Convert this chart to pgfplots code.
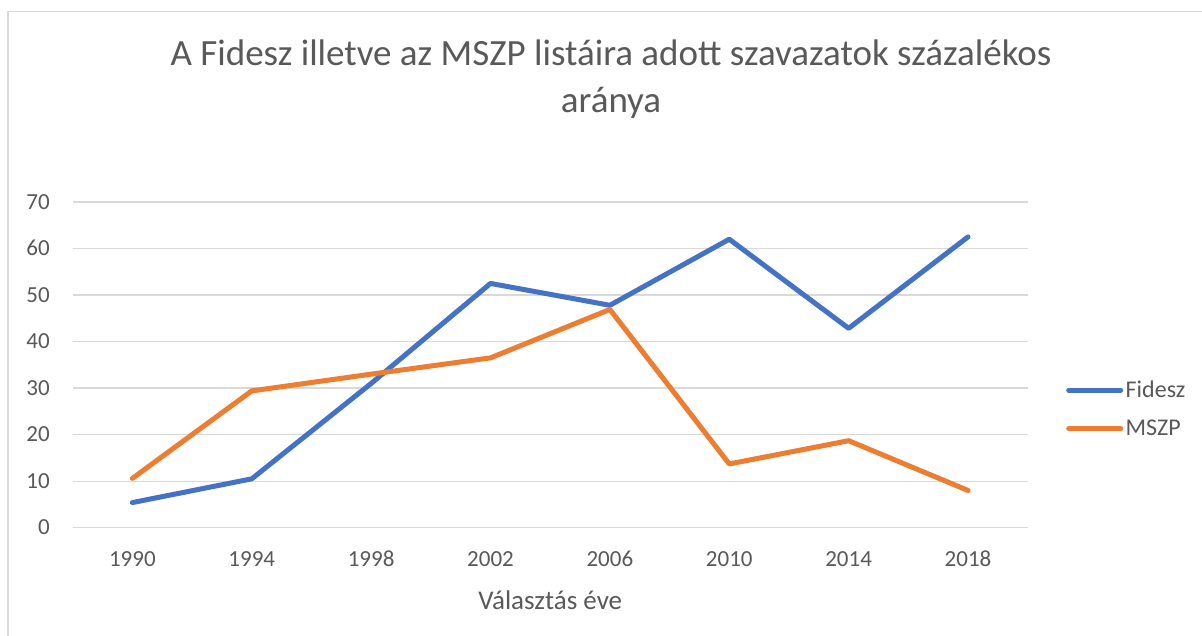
\documentclass[border=0pt]{standalone}
\usepackage{fontspec}
\setmainfont{Carlito}
\usepackage{pgfplots}
\pgfplotsset{compat=1.18}
\definecolor{txt}{HTML}{595959}
\definecolor{gridc}{HTML}{D9D9D9}
\definecolor{cblue}{HTML}{4472C4}
\definecolor{corange}{HTML}{ED7D31}
\begin{document}
\begin{tikzpicture}[x=1pt,y=1pt]
\useasboundingbox (0,0) rectangle (1202,636);
\fill[white] (0,0) rectangle (1202,636);
\draw[gridc, line width=1.6pt] (8,-20) -- (8,624.3) -- (1230,624.3);
\node[anchor=base, font=\fontsize{37}{44}\selectfont, text=txt, inner sep=0pt] at (611,570) {A Fidesz illetve az MSZP listáira adott szavazatok százalékos};
\node[anchor=base, font=\fontsize{37}{44}\selectfont, text=txt, inner sep=0pt] at (611,523.3) {aránya};
\begin{axis}[
  at={(72.7pt,108.3pt)}, anchor=south west,
  width=955pt, height=325.7pt, scale only axis,
  xmin=-0.5, xmax=7.5, ymin=0, ymax=70,
  xtick={0,1,2,3,4,5,6,7},
  xticklabels={1990,1994,1998,2002,2006,2010,2014,2018},
  ytick={0,10,20,30,40,50,60,70},
  ymajorgrids, xmajorgrids=false, grid style={gridc, line width=1.3pt},
  axis line style={draw=none},
  major tick length=0pt,
  tick label style={font=\fontsize{23}{27}\selectfont, text=txt},
  /pgf/number format/assume math mode=true,
  yticklabel style={inner sep=0pt, anchor=base east, xshift=-22.7pt, yshift=-7.2pt},
  xticklabel style={inner sep=0pt, anchor=base, yshift=-39pt},
  xlabel={Választás éve},
  xlabel style={at={(axis description cs:0.5,0)}, anchor=base, inner sep=0pt, yshift=-82.3pt, font=\fontsize{27}{32}\selectfont, text=txt},
  legend style={at={(axis description cs:1.0401,0.364)}, anchor=west, draw=none, fill=none, inner sep=0pt,
    font=\fontsize{24}{28}\selectfont, text=txt, row sep=16pt, nodes={inner sep=2.5pt}},
  legend cell align=left,
  legend image code/.code={\draw[#1, line width=5pt, line cap=round] (2pt,0pt) -- (54pt,0pt);},
]
\addplot[cblue, line width=5pt, line cap=round, line join=round] coordinates {
(0,5.4) (1,10.5) (2,31.0) (3,52.5) (4,47.8) (5,62.0) (6,42.85) (7,62.5)};
\addlegendentry{Fidesz}
\addplot[corange, line width=5pt, line cap=round, line join=round] coordinates {
(0,10.6) (1,29.4) (2,33.0) (3,36.5) (4,46.9) (5,13.7) (6,18.7) (7,8.0)};
\addlegendentry{MSZP}
\end{axis}
\end{tikzpicture}
\end{document}
